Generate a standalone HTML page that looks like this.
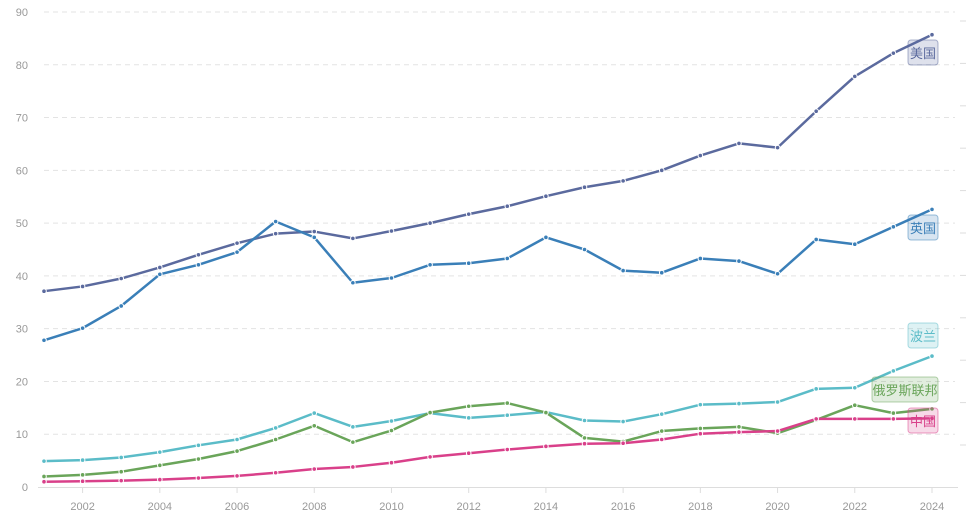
<!DOCTYPE html>
<html><head><meta charset="utf-8"><style>
body{margin:0;background:#fff;}
svg{display:block;font-family:"Liberation Sans","Noto Sans CJK SC",sans-serif;}
</style></head><body>
<svg id="chart" width="973" height="531" viewBox="0 0 973 531"></svg>
<script>
const years=[2001,2002,2003,2004,2005,2006,2007,2008,2009,2010,2011,2012,2013,2014,2015,2016,2017,2018,2019,2020,2021,2022,2023,2024];
const yTicks=[0,10,20,30,40,50,60,70,80,90];
const xTicks=[2002,2004,2006,2008,2010,2012,2014,2016,2018,2020,2022,2024];
const usa=[37.1,38,39.5,41.6,44,46.2,48,48.4,47.1,48.5,50,51.7,53.2,55.1,56.8,58,60,62.8,65.1,64.3,71.2,77.8,82.2,85.7];
const uk=[27.8,30.1,34.3,40.3,42.1,44.5,50.3,47.3,38.7,39.6,42.1,42.4,43.3,47.3,45,41,40.6,43.3,42.8,40.4,46.9,46,49.3,52.6];
const poland=[4.9,5.1,5.6,6.6,7.9,9,11.2,14,11.4,12.5,14,13.1,13.6,14.2,12.6,12.4,13.8,15.6,15.8,16.1,18.6,18.8,22,24.8];
const russia=[2,2.3,2.9,4.1,5.3,6.8,9,11.6,8.5,10.7,14.1,15.3,15.9,14.1,9.3,8.6,10.6,11.1,11.4,10.2,12.7,15.5,14,14.8];
const china=[1,1.1,1.2,1.4,1.7,2.1,2.7,3.4,3.8,4.6,5.7,6.4,7.1,7.7,8.2,8.3,9,10.1,10.4,10.6,12.9,12.9,12.9,13];
const seriesNames=["美国","英国","波兰","俄罗斯联邦","中国"];
const seriesData=[usa,uk,poland,russia,china];
const colors=["#5b6a9e","#3a7fb8","#5bbcc8","#6aa55a","#d9408a"];
const labelY=[53,228,336,390,421];

const svg=document.getElementById('chart');
const NS='http://www.w3.org/2000/svg';
const x=v=>44+(v-2001)*(932-44)/23;
const y=v=>487-v*(475/90);
function el(t,a,p){const e=document.createElementNS(NS,t);for(const k in a)e.setAttribute(k,a[k]);(p||svg).appendChild(e);return e;}

yTicks.forEach(t=>{
  if(t>0){const g=el('line',{x1:44,x2:955,y1:y(t),y2:y(t),stroke:'#e3e3e3','stroke-dasharray':'5,4'});
  
  }
  const tx=el('text',{x:28,y:y(t)+4,'text-anchor':'end','font-size':11,fill:'#999'});tx.textContent=t;
  
  
});
for(let k=0;k<12;k++){const yy=21+k*42.4;if(yy>487)break;
  const m=el('line',{x1:960,x2:966,y1:yy,y2:yy,stroke:'#ddd','stroke-width':1});
  
  }
const ax=el('line',{x1:38,x2:958,y1:487.5,y2:487.5,stroke:'#ddd'});


xTicks.forEach(t=>{
  const tk=el('line',{x1:x(t),x2:x(t),y1:488,y2:493,stroke:'#ddd'});
  
  
  const tx=el('text',{x:x(t),y:510,'text-anchor':'middle','font-size':11,fill:'#999'});tx.textContent=t;
  
  
});
seriesData.forEach((d,i)=>{
  const g=el('g',{});
  
  
  const p=el('polyline',{points:d.map((v,j)=>x(years[j])+','+y(v)).join(' '),fill:'none',stroke:colors[i],'stroke-width':2.5,'stroke-linejoin':'round'},g);
  
  
  d.forEach((v,j)=>{const c=el('circle',{cx:x(years[j]),cy:y(v),r:2.3,fill:colors[i],stroke:'#fff','stroke-width':1},g);
    
    });
});
seriesNames.forEach((n,i)=>{
  const w=n.length*12+6;
  const r=el('rect',{x:938-w,y:labelY[i]-13,width:w,height:25,rx:3,fill:colors[i],'fill-opacity':0.2,stroke:colors[i],'stroke-opacity':0.5});
  
  
  const t=el('text',{x:938-w/2,y:labelY[i]+5,'text-anchor':'middle','font-size':13,fill:colors[i]});t.textContent=n;
  
  
});
</script>
</body></html>
